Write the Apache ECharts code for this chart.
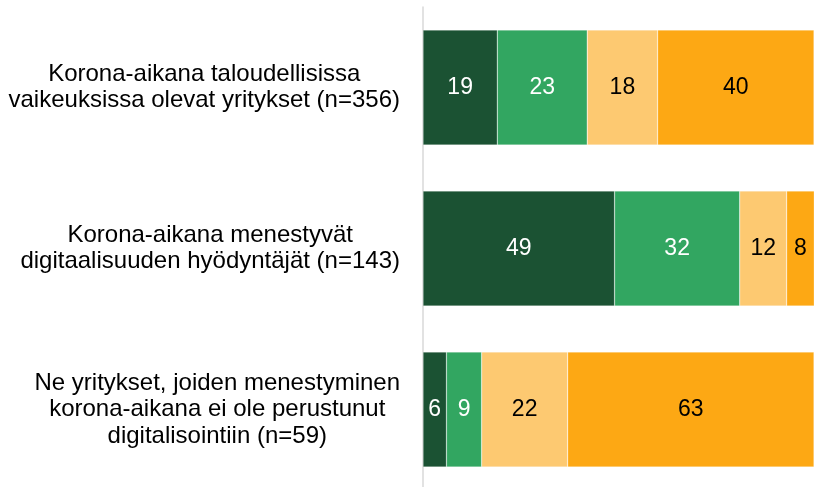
<!DOCTYPE html>
<html>
<head>
<meta charset="utf-8">
<script src="https://cdn.jsdelivr.net/npm/echarts@6/dist/echarts.min.js"></script>
<style>
  html, body { margin: 0; padding: 0; background: #fff; overflow: hidden; }
  #chart { width: 814px; height: 490px; }
</style>
</head>
<body>
<div id="chart"></div>
<script>
// kategoriat (ylhäältä alas)
var categories = [
  ['Korona-aikana taloudellisissa', 'vaikeuksissa olevat yritykset (n=356)'],
  ['Korona-aikana menestyvät', 'digitaalisuuden hyödyntäjät (n=143)'],
  ['Ne yritykset, joiden menestyminen', 'korona-aikana ei ole perustunut', 'digitalisointiin (n=59)']
];
// osuudet %, vasemmalta oikealle
var seg1 = [19, 49, 6];
var seg2 = [23, 32, 9];
var seg3 = [18, 12, 22];
var seg4 = [40, 8, 63];

var colors = ['#1b5233', '#32a661', '#fdc971', '#fda814'];
var labelColors = ['#fff', '#fff', '#000', '#000'];
var FONT = 'Liberation Sans, Arial, sans-serif';

function makeSeries(name, data, i) {
  return {
    name: name,
    type: 'bar',
    stack: 'all',
    barWidth: 115,
    data: data,
    itemStyle: { color: colors[i], borderColor: 'rgba(255,255,255,0.5)', borderWidth: 0.5 },
    label: {
      show: true,
      position: 'inside',
      color: labelColors[i],
      fontFamily: FONT,
      fontSize: 23
    }
  };
}

var chart = echarts.init(document.getElementById('chart'));
chart.setOption({
  animation: false,
  grid: { left: 423, right: 0, top: 7, bottom: 0, containLabel: false },
  xAxis: { type: 'value', min: 0, max: 100, show: false },
  yAxis: {
    type: 'category',
    inverse: true,
    data: categories.map(function (c) { return c.join('\n'); }),
    axisLine: { show: true, lineStyle: { color: '#d9d9d9', width: 1.5 } },
    axisTick: { show: false },
    axisLabel: {
      margin: 23,
      formatter: function (v) {
        return v.split('\n').map(function (s) { return '{c|' + s + '}'; }).join('\n');
      },
      rich: {
        c: { align: 'center', fontFamily: FONT, fontSize: 24, lineHeight: 26.5, color: '#000' }
      }
    }
  },
  series: [
    makeSeries('1', seg1, 0),
    makeSeries('2', seg2, 1),
    makeSeries('3', seg3, 2),
    makeSeries('4', seg4, 3)
  ]
});
</script>
</body>
</html>
